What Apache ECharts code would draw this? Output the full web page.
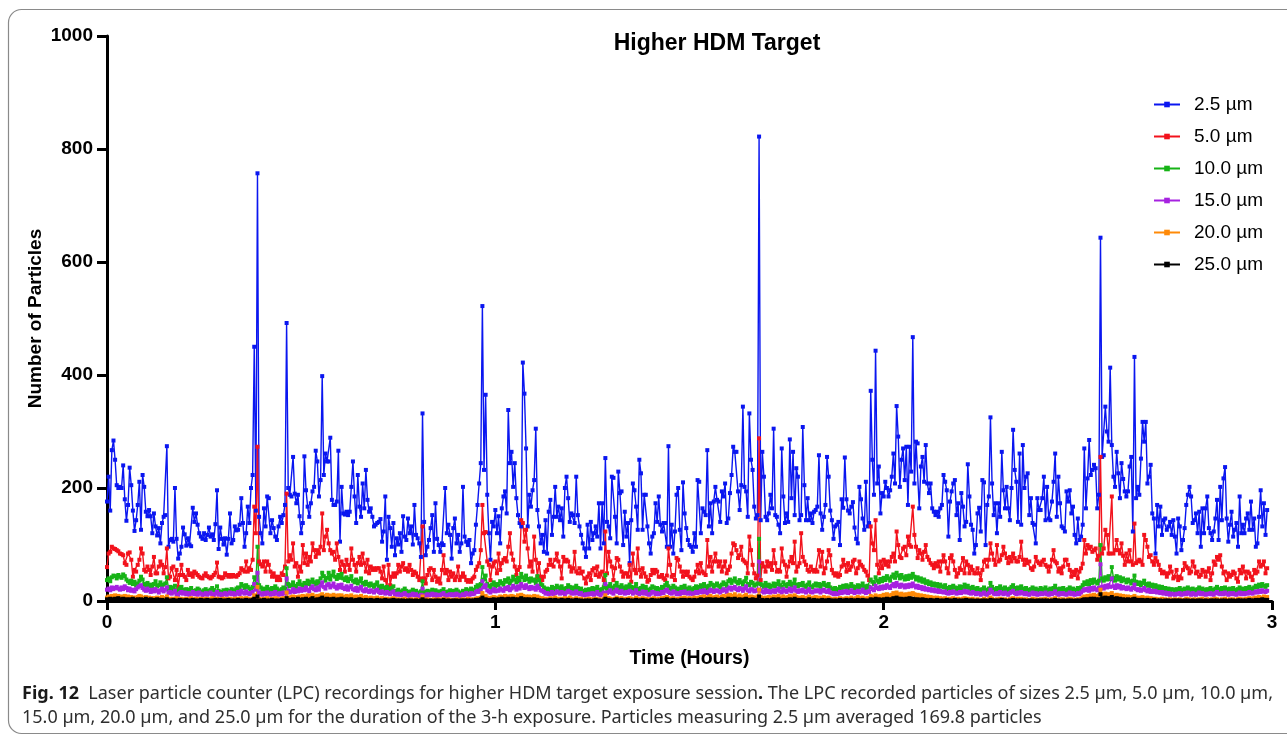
<!DOCTYPE html>
<html>
<head>
<meta charset="utf-8">
<script src="https://cdn.jsdelivr.net/npm/echarts@6.0.0/dist/echarts.min.js"></script>
<style>
  html, body { margin: 0; padding: 0; background: #ffffff; }
  #chart { width: 1287px; height: 736px; }
</style>
</head>
<body>
<div id="chart"></div>
<script>
// LPC readings, one sample every 15 s over the 3-h session
const SAMPLE_STEP_HOURS = 15 / 3600;

const sizeLabels = ['2.5 µm', '5.0 µm', '10.0 µm', '15.0 µm', '20.0 µm', '25.0 µm'];
const hourTicks = [0, 1, 2, 3];
const countTicks = [0, 200, 400, 600, 800, 1000];

const counts2_5 = [
176,220,160,267,284,250,205,200,202,200,
240,180,142,170,236,205,160,124,143,170,
211,126,223,202,158,150,161,150,120,155,
132,116,129,102,138,149,152,274,96,108,
110,105,200,110,75,84,96,130,118,98,
111,100,97,165,140,155,135,120,114,110,
120,108,117,130,114,118,108,136,196,92,
130,110,100,111,82,110,155,102,108,132,
125,126,135,182,138,96,120,167,138,200,
223,450,160,757,149,120,102,164,132,185,
182,120,143,129,114,108,132,149,138,152,
170,492,200,188,185,255,190,173,188,150,
120,138,256,196,167,149,173,194,202,266,
247,185,214,398,223,261,247,247,289,179,
170,170,176,266,105,202,155,153,158,152,
158,202,247,185,138,223,167,149,208,164,
232,179,158,164,149,132,135,138,140,145,
105,123,185,73,149,129,96,138,81,111,
100,120,87,150,114,108,146,120,132,100,
170,117,111,102,78,332,140,81,96,108,
129,152,87,173,110,99,87,102,99,200,
120,135,117,75,129,146,102,117,87,102,
202,114,105,99,108,67,84,90,135,170,
208,244,522,232,365,188,120,73,140,132,
161,120,150,102,164,185,194,155,338,244,
264,202,244,182,152,138,132,422,367,270,
132,188,167,196,214,305,161,132,102,117,
87,143,84,158,179,117,149,202,149,167,
143,164,114,200,220,182,140,155,152,138,
220,152,132,117,102,93,78,135,93,140,
108,120,132,114,173,93,173,102,253,140,
132,111,220,218,149,102,229,191,194,99,
158,114,138,67,143,208,196,167,126,250,
226,126,188,188,132,102,84,114,120,173,
140,185,135,123,138,138,96,274,96,135,
84,123,188,200,126,90,210,155,129,108,
99,96,87,120,96,214,211,120,164,158,
152,267,132,173,120,176,202,179,176,140,
194,185,208,138,146,191,223,273,264,264,
194,161,205,344,202,194,149,332,250,232,
167,146,152,822,143,264,220,149,143,155,
188,164,305,152,149,135,120,270,185,138,
155,140,286,182,264,152,235,220,143,152,
308,205,143,182,143,155,138,158,161,167,
258,155,126,149,170,255,220,160,143,110,
132,135,140,99,180,165,254,180,160,155,
167,175,130,110,102,202,180,146,126,211,
132,138,372,250,188,443,208,238,155,191,
185,211,200,185,196,220,261,208,345,291,
202,250,270,214,273,170,273,229,467,208,
282,279,164,238,255,211,276,208,191,208,
164,158,152,158,149,164,170,223,211,196,
114,176,194,208,214,152,173,108,191,167,
132,140,242,185,135,126,84,99,155,165,
123,214,210,99,170,185,325,208,152,173,
120,173,149,264,196,164,202,164,143,200,
303,232,211,140,261,135,276,200,220,226,
152,182,138,135,102,182,161,161,182,220,
143,202,146,143,176,211,261,149,220,173,
132,129,123,194,176,196,155,167,117,102,
146,108,114,135,270,164,217,285,223,232,
241,235,164,188,643,255,258,344,300,282,
413,276,220,202,264,226,182,244,216,194,
185,194,238,255,123,432,182,202,188,252,
317,282,317,208,220,241,155,146,84,170,
132,167,117,143,146,126,132,140,117,143,
114,84,146,132,90,108,129,170,188,202,
185,138,143,155,120,158,96,164,120,164,
185,129,120,108,123,146,179,108,202,143,
217,237,146,105,135,158,114,126,138,96,
185,120,135,120,146,155,126,176,126,146,
96,102,149,196,132,173,117,161
];

const counts5_0 = [
60,84,87,96,93,92,90,88,84,83,
81,67,64,84,86,73,43,55,52,64,
73,93,84,55,52,61,55,46,61,78,
49,49,61,70,64,49,60,93,40,43,
58,61,37,55,25,46,64,46,43,37,
55,46,49,43,52,49,46,43,41,40,
45,49,44,42,40,43,46,50,68,43,
42,40,42,49,46,43,46,43,46,44,
43,46,49,58,55,52,70,52,58,55,
73,167,120,273,70,65,61,70,52,70,
64,52,43,49,43,37,43,37,49,46,
61,190,70,81,73,102,61,67,43,61,
52,99,67,84,64,78,70,102,90,78,
90,84,96,155,90,114,126,102,90,84,
87,73,102,78,55,70,64,52,73,64,
55,93,73,64,52,67,78,64,84,67,
52,73,49,61,55,58,55,58,58,52,
40,61,37,25,64,28,43,49,43,49,
64,52,61,67,55,58,52,64,55,46,
52,49,43,37,40,132,40,31,46,55,
58,37,55,43,34,40,31,55,81,49,
55,37,52,43,49,37,43,61,37,43,
49,43,37,34,37,34,40,43,55,61,
67,90,170,120,122,70,64,37,61,67,
70,49,84,55,67,73,76,70,96,120,
84,73,61,46,55,60,143,138,105,126,
93,61,70,52,114,73,43,67,43,37,
43,52,55,64,73,64,61,73,84,70,
61,40,78,70,73,70,61,52,58,87,
52,49,58,49,52,40,31,43,49,37,
55,58,46,61,43,49,52,37,123,49,
87,70,61,37,58,76,73,61,52,43,
49,49,43,64,34,84,55,49,93,55,
43,58,49,43,34,37,46,55,49,55,
52,43,43,46,40,37,45,93,64,43,
46,37,76,73,61,52,43,52,46,52,
43,40,37,43,52,64,49,67,52,49,
46,108,61,78,52,70,84,70,61,70,
52,61,70,49,55,61,84,102,99,90,
76,81,96,73,70,67,49,114,90,64,
49,40,45,288,37,67,61,52,70,61,
67,55,90,67,52,55,52,93,70,64,
43,61,70,78,67,105,52,61,67,120,
78,70,64,55,52,61,55,52,55,52,
90,61,87,49,58,70,90,81,55,49,
45,49,43,46,61,73,64,52,67,55,
61,70,73,49,58,70,64,61,55,52,
45,37,132,102,90,143,64,49,70,58,
73,64,70,61,70,78,84,70,123,99,
78,76,93,96,81,114,99,96,167,117,
96,76,90,84,73,87,99,78,73,67,
64,58,67,61,70,52,70,81,70,58,
49,76,81,70,55,43,49,58,55,76,
49,70,64,49,61,55,49,49,58,49,
37,55,70,73,61,73,102,84,73,64,
99,70,73,81,96,84,76,67,78,70,
84,76,70,70,78,105,73,64,73,67,
70,58,55,61,78,70,67,64,70,73,
64,61,52,61,73,90,70,67,52,58,
49,61,73,73,64,55,43,52,46,55,
40,52,58,66,108,84,99,93,96,87,
90,93,73,80,255,84,93,126,117,84,
84,185,84,90,108,90,84,102,80,64,
84,70,90,70,64,137,67,70,73,70,
64,117,108,96,78,81,70,64,76,70,
64,55,49,52,49,43,49,61,52,40,
43,55,37,43,40,55,67,61,58,49,
52,70,61,49,52,43,46,55,52,43,
52,58,37,49,70,64,78,73,81,61,
49,52,37,49,43,46,52,49,40,34,
55,49,61,52,40,52,49,43,37,55,
49,52,70,61,64,70,49,58
];

const counts10_0 = [
37,40,35,42,45,44,40,46,43,41,
47,44,38,35,32,36,30,34,28,31,
36,43,38,30,27,32,26,29,24,30,
35,26,28,33,27,29,31,42,22,25,
20,24,27,19,16,22,25,20,18,21,
17,20,23,18,16,19,22,20,17,15,
19,21,18,16,20,23,19,17,26,18,
16,14,19,17,20,18,16,21,19,17,
22,24,20,30,27,23,28,25,22,20,
25,42,30,96,28,24,20,22,19,25,
21,18,23,20,26,22,19,17,21,24,
22,58,30,26,28,33,27,25,30,35,
29,27,32,28,36,30,34,38,33,29,
35,31,40,50,44,36,41,50,38,45,
52,43,39,46,41,48,40,37,42,35,
39,44,36,33,38,31,35,40,32,29,
34,30,27,31,28,25,29,33,26,23,
27,24,21,25,22,19,23,26,18,16,
20,17,15,19,22,18,16,14,17,20,
16,18,15,13,17,35,16,14,18,15,
17,20,16,19,14,17,15,18,21,16,
14,17,19,15,18,16,20,17,15,14,
18,16,21,19,17,22,18,20,25,28,
24,30,60,38,45,30,27,24,29,33,
26,30,28,35,32,29,37,34,40,31,
36,43,38,33,41,35,48,42,37,45,
39,34,40,36,38,32,44,37,30,28,
24,20,22,18,21,25,19,23,27,24,
20,26,22,19,23,28,25,21,24,20,
27,23,19,22,18,16,20,17,21,19,
23,18,22,25,20,17,21,24,46,22,
26,30,24,21,27,32,25,22,28,24,
20,26,23,29,25,21,24,30,22,19,
23,27,21,25,20,18,22,26,24,20,
23,19,21,25,22,28,32,26,23,21,
27,24,20,22,19,25,23,27,22,20,
24,21,19,23,26,22,25,28,24,30,
26,23,27,32,29,25,28,31,27,24,
29,33,30,26,35,38,32,36,40,34,
31,37,33,29,35,41,30,28,34,32,
27,29,31,110,30,28,25,32,26,29,
24,27,31,26,30,35,28,25,33,29,
26,30,34,27,31,38,29,26,30,28,
32,27,25,29,33,26,24,28,31,27,
30,25,29,32,28,26,30,24,22,20,
23,19,21,25,22,27,24,28,23,26,
30,26,22,25,28,24,27,31,26,23,
27,25,38,34,30,42,36,33,39,35,
41,37,44,40,36,43,47,41,50,45,
40,46,42,38,44,39,45,41,48,43,
38,42,36,40,34,38,32,35,30,33,
28,31,27,30,25,29,26,24,28,23,
21,25,22,27,24,20,23,26,22,25,
29,24,27,23,21,25,22,19,23,20,
18,21,24,20,17,22,32,25,21,19,
23,20,26,22,19,24,21,18,22,25,
28,23,20,24,21,26,22,19,23,20,
17,21,24,19,22,18,20,23,19,21,
24,20,18,22,19,23,27,21,18,22,
19,23,20,17,21,24,19,22,18,20,
23,19,24,28,33,30,35,29,37,32,
38,34,31,36,99,40,36,42,38,44,
39,60,41,36,44,38,42,35,40,37,
33,38,35,31,36,45,34,30,33,28,
32,36,30,27,31,26,29,25,28,23,
26,22,25,20,23,19,22,18,21,20,
17,21,19,23,18,20,22,19,24,21,
18,22,20,17,21,24,19,22,20,18,
21,19,23,20,18,22,25,21,19,23,
20,24,21,18,22,19,23,20,17,21,
24,20,22,19,23,21,25,22,20,24,
27,24,29,26,30,27,25,28
];

const counts15_0 = [
20,22,19,24,21,23,25,22,20,24,
21,26,23,19,22,18,20,17,21,24,
26,28,23,20,18,22,19,16,20,17,
21,18,15,19,22,17,20,24,14,16,
13,15,18,12,11,14,16,13,15,12,
14,11,13,16,12,14,11,15,13,10,
12,14,11,13,15,12,10,13,16,11,
13,10,12,14,11,13,15,12,14,11,
13,16,12,18,15,13,17,14,12,14,
16,30,20,50,15,13,11,14,12,15,
13,11,14,12,16,13,11,14,12,15,
13,40,18,15,17,21,16,19,17,22,
18,21,19,24,20,17,23,26,21,19,
24,20,27,33,25,22,28,30,24,27,
31,25,22,28,24,29,23,21,26,20,
24,27,21,19,23,18,22,25,19,17,
21,18,16,19,17,15,18,20,16,14,
17,15,13,16,14,12,15,17,12,11,
13,11,10,12,14,11,10,9,11,13,
10,12,9,8,11,22,10,9,12,10,
11,13,10,12,9,11,10,12,14,10,
9,11,12,10,12,10,13,11,9,10,
12,10,14,12,11,14,12,13,16,18,
16,20,35,24,28,19,17,15,18,21,
17,19,18,22,20,18,23,21,25,19,
22,27,24,20,26,22,30,26,23,28,
24,21,25,22,24,20,27,23,19,18,
16,13,14,12,13,16,12,14,17,15,
13,16,14,12,15,18,16,13,15,13,
17,14,12,14,11,10,12,11,13,12,
14,11,13,16,12,10,13,15,30,14,
16,19,15,13,17,20,16,14,18,15,
13,16,14,18,16,13,15,19,14,12,
14,17,13,16,12,11,13,16,15,12,
14,12,13,16,14,18,20,16,14,13,
17,15,12,14,12,16,14,17,14,13,
15,13,12,14,16,14,16,18,15,19,
16,14,17,20,18,16,18,19,17,15,
18,21,19,16,22,24,20,23,25,21,
19,23,21,18,22,26,19,17,21,20,
17,18,20,70,19,17,15,20,16,18,
15,17,19,16,19,22,17,15,21,18,
16,19,22,17,20,24,18,16,19,17,
20,17,15,18,21,16,15,17,19,17,
19,15,18,20,17,16,19,15,14,12,
14,12,13,16,14,17,15,18,14,16,
19,16,14,16,18,15,17,20,16,14,
17,16,24,21,19,27,23,21,25,22,
26,23,28,25,23,27,30,26,32,28,
25,29,27,24,28,25,29,26,31,27,
24,27,23,25,21,24,20,22,19,21,
18,20,17,19,16,18,16,15,17,14,
13,16,14,17,15,13,14,16,14,16,
18,15,17,14,13,16,14,12,14,13,
11,13,15,12,11,14,20,16,13,12,
14,12,16,14,12,15,13,11,14,16,
18,14,12,15,13,16,14,12,14,12,
11,13,15,12,14,11,12,14,12,13,
15,12,11,14,12,14,17,13,11,14,
12,14,12,11,13,15,12,14,11,12,
14,12,15,18,21,19,22,18,23,20,
24,21,19,23,65,25,22,27,24,28,
25,40,26,23,28,24,27,22,25,23,
21,24,22,20,23,29,21,19,21,18,
20,23,19,17,20,16,18,16,18,15,
16,14,16,13,15,12,14,11,13,12,
11,13,12,14,11,12,14,12,15,13,
11,14,12,11,13,15,12,14,12,11,
13,12,14,12,11,14,16,13,12,14,
12,15,13,11,14,12,14,12,11,13,
15,12,14,12,14,13,16,14,13,15,
17,15,18,16,19,17,16,18
];

const counts20_0 = [
6,8,7,9,8,10,7,9,6,8,
7,9,6,8,5,7,6,4,6,7,
9,8,6,5,7,4,6,5,3,5,
4,6,3,5,7,4,5,8,3,4,
2,4,3,5,2,3,4,2,3,4,
2,3,5,3,2,4,3,2,4,3,
2,4,3,2,3,5,2,3,4,2,
3,2,4,3,2,3,4,2,3,4,
2,4,3,5,4,3,5,4,2,3,
4,10,6,25,4,3,2,4,3,5,
3,2,4,3,5,4,2,3,4,5,
4,15,6,5,7,8,6,7,5,8,
7,9,6,8,10,7,9,11,8,7,
9,7,10,12,9,8,11,10,8,9,
11,9,7,10,8,10,7,6,9,7,
8,10,7,6,8,5,7,9,6,5,
7,5,4,6,5,3,5,6,4,3,
5,4,3,4,2,3,4,5,3,2,
3,2,1,3,4,2,1,2,3,2,
1,3,2,1,2,8,2,1,3,2,
1,2,3,1,2,3,1,2,4,2,
1,3,2,1,2,1,3,2,1,2,
3,1,2,4,2,3,2,3,4,5,
4,6,14,7,9,6,5,4,6,7,
5,6,5,8,6,7,9,6,8,7,
9,8,7,6,10,8,11,9,7,8,
6,8,7,5,9,6,8,6,4,5,
3,4,2,3,5,3,4,6,3,4,
2,4,3,5,4,3,6,4,2,3,
5,3,2,4,2,1,3,2,4,3,
2,3,4,2,3,1,2,4,10,3,
5,4,3,2,4,6,3,4,5,3,
2,4,3,5,4,2,3,6,4,2,
3,5,2,4,3,2,3,4,5,3,
2,4,3,5,4,6,7,5,3,4,
5,3,2,4,3,5,4,6,3,4,
5,3,4,6,5,4,6,7,5,8,
6,5,7,9,6,5,7,8,6,5,
7,9,6,8,10,11,8,9,12,7,
8,10,7,6,9,11,7,6,8,7,
5,6,8,20,7,5,4,6,5,7,
4,6,8,5,7,9,6,4,8,6,
5,7,9,6,8,10,7,5,6,4,
7,5,4,6,8,5,4,6,7,5,
6,4,5,7,5,4,6,4,3,2,
4,3,2,5,3,4,2,5,3,4,
6,4,3,5,7,4,5,6,4,3,
5,4,9,7,6,10,8,7,9,8,
11,9,12,10,8,11,14,10,15,12,
10,13,11,9,12,10,13,11,14,12,
9,11,8,10,7,9,6,8,5,7,
5,6,4,6,3,5,4,3,5,2,
3,4,2,5,3,2,4,3,2,4,
5,3,4,2,3,4,2,1,3,2,
1,2,4,2,1,3,6,4,2,1,
3,2,4,3,1,3,2,1,3,4,
5,3,2,4,2,4,3,1,3,2,
1,2,4,2,3,1,2,3,2,3,
4,2,1,3,2,3,5,2,1,3,
2,3,1,2,3,4,2,3,1,2,
3,2,4,6,8,7,9,6,10,8,
11,9,7,10,20,12,9,13,10,12,
9,14,10,8,11,9,10,7,9,8,
6,8,7,5,7,9,6,4,6,5,
7,5,4,6,3,5,4,3,4,2,
3,2,4,2,3,1,2,3,2,1,
3,2,1,3,2,1,2,4,2,3,
1,2,3,2,1,3,2,4,2,1,
3,2,1,3,2,4,3,2,1,3,
2,4,2,1,3,2,3,1,2,3,
4,2,3,2,4,3,5,3,4,5,
6,4,7,5,6,8,6,7
];

const counts25_0 = [
3,2,4,3,2,4,3,5,2,3,
4,2,3,1,3,2,4,2,1,3,
2,3,1,2,4,1,2,3,1,2,
1,3,2,1,2,0,1,3,1,0,
1,2,0,1,0,2,1,0,1,2,
0,1,0,2,1,0,1,0,2,1,
0,1,2,0,1,0,1,2,0,1,
2,0,1,0,1,2,0,1,0,1,
0,2,1,0,1,0,2,1,0,1,
2,4,1,8,1,0,1,2,0,1,
0,1,2,0,1,0,1,0,2,1,
0,5,2,1,2,3,1,2,4,2,
1,3,2,4,2,1,3,5,2,1,
3,2,4,6,3,2,4,3,2,3,
4,2,1,3,2,4,1,2,3,1,
2,3,1,0,2,1,3,2,0,1,
2,0,1,2,0,1,0,2,1,0,
1,0,2,0,1,0,1,2,0,1,
0,1,0,1,0,0,1,0,1,0,
0,1,0,0,1,3,0,1,0,0,
1,0,0,1,0,1,0,0,2,0,
0,1,0,0,1,0,1,0,0,1,
0,1,0,1,0,1,0,1,2,1,
2,3,6,2,3,1,2,1,2,3,
1,2,3,2,4,2,3,2,4,3,
2,4,3,1,3,2,5,3,2,3,
2,3,1,2,3,1,2,1,0,1,
0,1,0,1,2,0,1,2,0,1,
0,2,1,0,1,2,1,0,1,0,
2,1,0,1,0,0,1,0,1,0,
0,1,2,0,1,0,0,1,4,1,
2,1,0,1,2,3,1,0,2,1,
0,1,2,1,0,1,0,2,1,0,
1,2,0,1,0,0,1,2,1,0,
1,0,1,2,1,2,3,1,0,1,
2,1,0,1,0,2,1,2,0,1,
2,0,1,2,1,0,2,3,1,2,
1,3,2,3,1,2,3,2,1,2,
3,2,1,2,4,3,2,3,4,2,
1,3,2,1,3,4,2,1,2,3,
1,2,2,8,1,2,0,1,2,1,
0,2,3,1,2,3,1,0,2,1,
2,1,3,1,2,4,2,1,2,0,
2,1,0,1,3,1,0,2,1,0,
1,0,2,1,0,1,2,1,0,1,
0,1,0,2,1,0,1,2,0,1,
2,1,0,1,2,0,1,2,1,0,
1,0,3,2,1,4,2,3,2,1,
3,2,4,3,2,3,5,3,6,4,
3,4,2,3,4,2,5,3,4,3,
2,3,1,2,3,1,2,1,0,2,
1,0,1,2,0,1,0,1,0,2,
1,0,1,0,2,0,1,0,1,0,
1,2,0,1,0,1,0,0,1,0,
0,1,0,1,0,0,2,1,0,1,
0,1,0,2,0,1,0,0,1,0,
2,1,0,1,0,1,0,1,0,0,
1,0,1,0,0,1,0,1,0,1,
0,1,0,0,1,0,2,0,1,0,
0,1,0,0,1,0,1,0,0,1,
0,1,0,2,3,2,3,2,4,3,
4,3,2,3,12,5,3,6,4,5,
3,7,4,3,5,3,4,2,3,2,
2,3,1,2,3,4,2,1,2,1,
2,1,0,2,1,0,1,2,0,1,
0,1,0,0,1,0,1,0,0,1,
0,1,0,1,0,0,1,0,1,0,
0,1,0,0,1,0,1,0,0,1,
0,0,1,0,1,0,1,0,0,1,
0,1,0,0,1,0,1,0,0,1,
1,0,1,0,1,0,2,1,0,1,
2,1,2,1,3,2,1,2
];

const seriesValues = [counts2_5, counts5_0, counts10_0, counts15_0, counts20_0, counts25_0];
const seriesColors = ['#0a16f0', '#f2121c', '#16b316', '#a622e0', '#ff8a08', '#000000'];

const AXIS_FONT = '"Liberation Sans", Arial, sans-serif';
const CAPTION_FONT = '"Noto Sans", "Open Sans", sans-serif';

const chart = echarts.init(document.getElementById('chart'), null, { renderer: 'canvas' });

const series = seriesValues.map((values, k) => ({
  name: sizeLabels[k],
  type: 'line',
  data: values.map((v, i) => [i * SAMPLE_STEP_HOURS, v]),
  symbol: 'rect',
  symbolSize: 4,
  showSymbol: true,
  lineStyle: { width: 1.4, color: seriesColors[k] },
  itemStyle: { color: seriesColors[k] },
  emphasis: { disabled: true },
  silent: true,
  animation: false
}));

chart.setOption({
  animation: false,
  backgroundColor: '#ffffff',
  grid: { left: 107, right: 15, top: 36, bottom: 135, containLabel: false },
  legend: {
    orient: 'vertical',
    left: 1153,
    top: 95,
    padding: 0,
    itemWidth: 26,
    itemHeight: 7,
    itemGap: 13,
    data: sizeLabels,
    textStyle: { fontFamily: AXIS_FONT, fontSize: 19, color: '#000', padding: [0, 0, 0, 9] }
  },
  xAxis: {
    type: 'value',
    min: hourTicks[0],
    max: hourTicks[hourTicks.length - 1],
    interval: 1,
    name: 'Time (Hours)',
    nameLocation: 'middle',
    nameGap: 48,
    nameMoveOverlap: false,
    nameTextStyle: { fontFamily: AXIS_FONT, fontSize: 19.5, fontWeight: 'bold', color: '#000' },
    axisLine: { show: true, onZero: false, lineStyle: { color: '#000', width: 3 } },
    axisTick: { show: true, length: 9, lineStyle: { color: '#000', width: 3 } },
    axisLabel: { margin: 12, fontFamily: AXIS_FONT, fontSize: 19, fontWeight: 'bold', color: '#000',
                 formatter: (v) => String(v) },
    splitLine: { show: false }
  },
  yAxis: {
    type: 'value',
    min: countTicks[0],
    max: countTicks[countTicks.length - 1],
    interval: 200,
    name: 'Number of Particles',
    nameLocation: 'middle',
    nameGap: 62,
    nameMoveOverlap: false,
    nameTextStyle: { fontFamily: AXIS_FONT, fontSize: 19, fontWeight: 'bold', color: '#000' },
    axisLine: { show: true, lineStyle: { color: '#000', width: 3 } },
    axisTick: { show: true, length: 10, lineStyle: { color: '#000', width: 3 } },
    axisLabel: { margin: 14, fontFamily: AXIS_FONT, fontSize: 19, fontWeight: 'bold', color: '#000',
                 formatter: (v) => String(v) },
    splitLine: { show: false }
  },
  graphic: [
    {
      type: 'rect',
      silent: true,
      z: -10,
      shape: { x: 8.5, y: 9.5, width: 1320, height: 724, r: 13 },
      style: { fill: 'none', stroke: '#8a8a8a', lineWidth: 1.2 }
    },
    {
      type: 'text',
      silent: true,
      x: 717,
      y: 44,
      style: {
        text: 'Higher HDM Target',
        align: 'center',
        verticalAlign: 'middle',
        font: 'bold 23px "Liberation Sans", Arial, sans-serif',
        fill: '#000'
      }
    },
    {
      type: 'text',
      silent: true,
      x: 22,
      y: 694,
      style: {
        text: '{b|Fig. 12}  Laser particle counter (LPC) recordings for higher HDM target exposure session{b|.} The LPC recorded particles of sizes 2.5 µm, 5.0 µm, 10.0 µm,',
        verticalAlign: 'middle',
        font: '18px ' + CAPTION_FONT,
        fill: '#2e2e2e',
        rich: {
          b: { font: 'bold 18px ' + CAPTION_FONT, fill: '#1a1a1a' }
        }
      }
    },
    {
      type: 'text',
      silent: true,
      x: 22,
      y: 718,
      style: {
        text: '15.0 µm, 20.0 µm, and 25.0 µm for the duration of the 3-h exposure. Particles measuring 2.5 µm averaged 169.8 particles',
        verticalAlign: 'middle',
        font: '18px ' + CAPTION_FONT,
        fill: '#2e2e2e'
      }
    }
  ],
  series: series
});
</script>
</body>
</html>
